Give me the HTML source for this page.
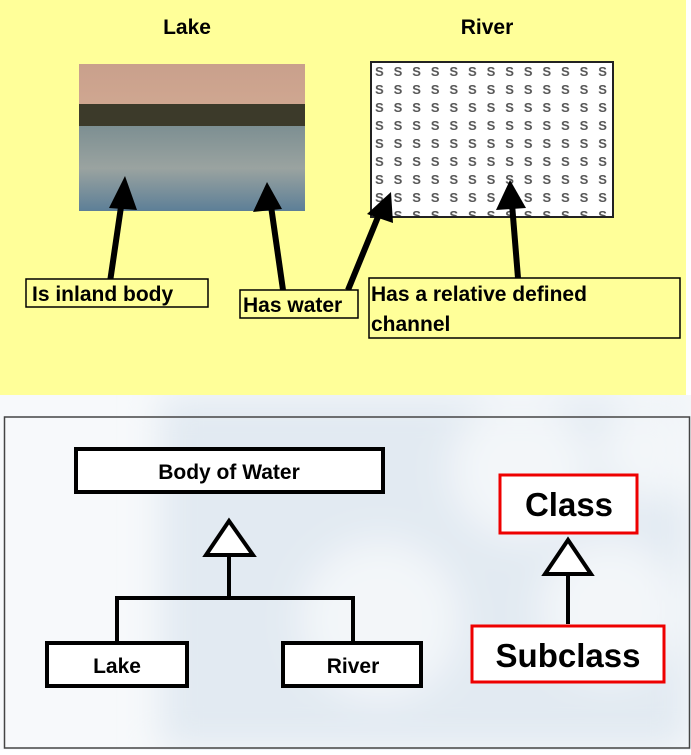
<!DOCTYPE html>
<html><head><style>
body{margin:0;width:691px;height:750px;overflow:hidden;background:#fff;font-family:"Liberation Sans",sans-serif;}
</style></head><body>
<svg width="691" height="750" xmlns="http://www.w3.org/2000/svg" font-family="Liberation Sans, sans-serif" font-weight="bold">
<defs>
<linearGradient id="sky" x1="0" y1="0" x2="0" y2="1">
<stop offset="0" stop-color="#c9a08c"/><stop offset="1" stop-color="#e0b89c"/></linearGradient>
<linearGradient id="wat" x1="0" y1="0" x2="0" y2="1">
<stop offset="0" stop-color="#7d8f92"/><stop offset="0.5" stop-color="#9aa3a0"/><stop offset="1" stop-color="#5d7f97"/></linearGradient>
<pattern id="riv" x="371" y="62" width="18.6" height="18" patternUnits="userSpaceOnUse">
<text x="4" y="14" font-size="13" fill="#555" font-weight="bold">S</text>
</pattern>
<filter id="blur"><feGaussianBlur stdDeviation="18"/></filter>
<clipPath id="bot"><rect x="0" y="395" width="691" height="355"/></clipPath>
</defs>
<rect x="0" y="395" width="691" height="355" fill="#f7f9fb"/>
<g filter="url(#blur)" clip-path="url(#bot)">
<rect x="160" y="395" width="530" height="355" fill="#e2eaf2"/>
<circle cx="380" cy="620" r="80" fill="#f3f6f9"/>
<circle cx="520" cy="470" r="70" fill="#f3f6f9"/>
<circle cx="610" cy="610" r="70" fill="#f3f6f9"/>
<circle cx="650" cy="450" r="50" fill="#f3f6f9"/>
</g>
<rect x="0" y="0" width="691" height="395" fill="#fff"/>
<rect x="0" y="0" width="686" height="395" fill="#ffff99"/>
<text x="187" y="34" font-size="21" text-anchor="middle">Lake</text>
<text x="487" y="34" font-size="21" text-anchor="middle">River</text>
<rect x="79" y="64" width="226" height="147" fill="url(#sky)"/>
<rect x="79" y="104" width="226" height="24" fill="#3c3a2a"/>
<rect x="79" y="126" width="226" height="85" fill="url(#wat)"/>
<rect x="371" y="62" width="242" height="155" fill="#fff"/>
<rect x="371" y="62" width="242" height="155" fill="url(#riv)" stroke="#222" stroke-width="2"/>
<g stroke="#000" stroke-width="6" fill="#000">
<line x1="110" y1="282" x2="122" y2="200"/>
<line x1="283" y1="290" x2="271" y2="206"/>
<line x1="348" y1="290" x2="380" y2="212"/>
<line x1="518" y1="278" x2="512" y2="204"/>
</g>
<g fill="#000">
<polygon points="125,176 109,208 137,210"/>
<polygon points="267,182 253,212 282,209"/>
<polygon points="391,192 367,214 393,223"/>
<polygon points="510,180 496,210 526,208"/>
</g>
<g font-size="21" fill="#000">
<rect x="26" y="279" width="182" height="28" fill="#ffff99" stroke="#000" stroke-width="1.5"/>
<text x="32" y="301">Is inland body</text>
<rect x="240" y="290" width="118" height="28" fill="#ffff99" stroke="#000" stroke-width="1.5"/>
<text x="243" y="312">Has water</text>
<rect x="369" y="278" width="311" height="60" fill="#ffff99" stroke="#000" stroke-width="1.5"/>
<text x="371" y="301">Has a relative defined</text>
<text x="371" y="331">channel</text>
</g>
<rect x="4.5" y="417" width="685" height="331" fill="none" stroke="#444" stroke-width="1.5"/>
<g stroke="#000" stroke-width="4" fill="#fff">
<rect x="76" y="449" width="307" height="43"/>
<rect x="47" y="643" width="140" height="43"/>
<rect x="283" y="643" width="138" height="43"/>
<polyline points="117,643 117,598 353,598 353,643" fill="none"/>
<line x1="229" y1="598" x2="229" y2="555"/>
<polygon points="229,521 206,555 253,555"/>
<line x1="568" y1="624" x2="568" y2="574"/>
<polygon points="568,540 545,574 591,574"/>
</g>
<g stroke="#e00" stroke-width="3" fill="#fff">
<rect x="500" y="475" width="137" height="58"/>
<rect x="472" y="626" width="192" height="56"/>
</g>
<text x="229" y="479" font-size="21" text-anchor="middle">Body of Water</text>
<text x="117" y="673" font-size="21" text-anchor="middle">Lake</text>
<text x="353" y="673" font-size="21" text-anchor="middle">River</text>
<text x="569" y="516" font-size="33" text-anchor="middle">Class</text>
<text x="568" y="667" font-size="33" text-anchor="middle">Subclass</text>
</svg>
</body></html>
